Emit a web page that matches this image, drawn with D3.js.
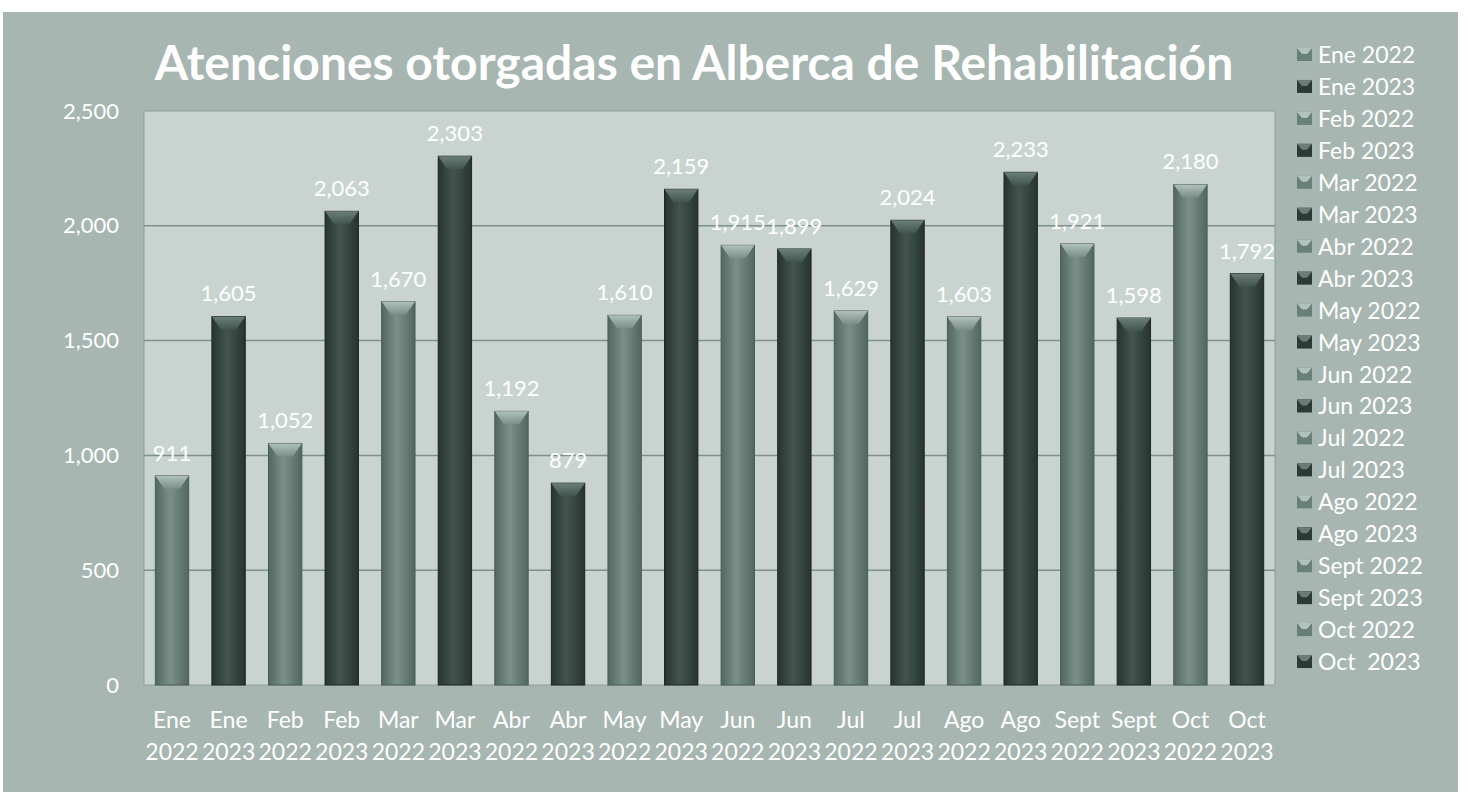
<!DOCTYPE html>
<html>
<head>
<meta charset="utf-8">
<script src="https://cdn.jsdelivr.net/npm/d3@7/dist/d3.min.js"></script>
<style>
  html, body { margin: 0; padding: 0; background: #ffffff; }
  svg { display: block; }
  text { font-family: Lato, "Open Sans", sans-serif; fill: #ffffff; }
  .legend text { white-space: pre; }
</style>
</head>
<body>
<svg id="chart" width="1468" height="792"></svg>
<script>
// Monthly attendance at the rehabilitation pool, 2022 vs 2023
const months = ["Ene", "Feb", "Mar", "Abr", "May", "Jun", "Jul", "Ago", "Sept", "Oct"];
const years = ["2022", "2023"];
const values2022 = [911, 1052, 1670, 1192, 1610, 1915, 1629, 1603, 1921, 2180];
const values2023 = [1605, 2063, 2303, 879, 2159, 1899, 2024, 2233, 1598, 1792];
const legendLabels = ["Ene 2022", "Ene 2023", "Feb 2022", "Feb 2023", "Mar 2022", "Mar 2023",
  "Abr 2022", "Abr 2023", "May 2022", "May 2023", "Jun 2022", "Jun 2023", "Jul 2022", "Jul 2023",
  "Ago 2022", "Ago 2023", "Sept 2022", "Sept 2023", "Oct 2022", "Oct  2023"];
const yTicks = [0, 500, 1000, 1500, 2000, 2500];
const title = "Atenciones otorgadas en Alberca de Rehabilitación";

// Interleave months and years into one bar per month/year pair
const bars = [];
months.forEach((m, i) => {
  bars.push({ key: m + " 2022", month: m, year: "2022", value: values2022[i] });
  bars.push({ key: m + " 2023", month: m, year: "2023", value: values2023[i] });
});

const svg = d3.select("#chart");
const W = 1468, H = 792;
const plot = { left: 144, right: 1275, top: 111, bottom: 685 };

// Outer chart background
svg.append("rect").attr("x", 3).attr("y", 12).attr("width", 1455).attr("height", H - 12)
  .attr("fill", "#a7b6b1");

const defs = svg.append("defs");
const seriesColor = { "2022": ["#536761", "#7b908a", "#536761"], "2023": ["#27342f", "#43554f", "#27342f"] };
years.forEach(y => {
  const g = defs.append("linearGradient").attr("id", "grad" + y).attr("x1", 0).attr("x2", 1).attr("y1", 0).attr("y2", 0);
  g.append("stop").attr("offset", "0%").attr("stop-color", seriesColor[y][0]);
  g.append("stop").attr("offset", "45%").attr("stop-color", seriesColor[y][1]);
  g.append("stop").attr("offset", "100%").attr("stop-color", seriesColor[y][2]);
  const b = defs.append("linearGradient").attr("id", "bevel" + y).attr("x1", 0).attr("x2", 0).attr("y1", 0).attr("y2", 1);
  b.append("stop").attr("offset", "0%").attr("stop-color", y === "2022" ? "#b9c7c2" : "#72847e");
  b.append("stop").attr("offset", "100%").attr("stop-color", seriesColor[y][1]);
});

const x = d3.scaleBand().domain(bars.map(d => d.key)).range([plot.left, plot.right]).paddingInner(0.41).paddingOuter(0.2);
const y = d3.scaleLinear().domain([0, 2500]).range([plot.bottom, plot.top]);

// Plot area
svg.append("rect").attr("x", plot.left).attr("y", plot.top)
  .attr("width", plot.right - plot.left).attr("height", plot.bottom - plot.top)
  .attr("fill", "#c9d4d0").attr("stroke", "#8e9d98").attr("stroke-width", 1);

// Gridlines
svg.append("g").selectAll("line").data(yTicks.filter(t => t > 0 && t < 2500)).join("line")
  .attr("x1", plot.left).attr("x2", plot.right)
  .attr("y1", d => y(d)).attr("y2", d => y(d))
  .attr("stroke", "#7f908a").attr("stroke-width", 1.5);

// Y axis labels
const yAxis = d3.axisLeft(y).tickValues(yTicks).tickFormat(d3.format(",")).tickSize(0).tickPadding(25);
const yg = svg.append("g").attr("transform", `translate(${plot.left},0)`).call(yAxis);
yg.select(".domain").remove();
yg.selectAll("text").attr("font-size", 22).attr("fill", "#ffffff").style("font-family", "Lato, 'Open Sans', sans-serif");

// Bars
const barG = svg.append("g");
barG.selectAll("rect.bar").data(bars).join("rect").attr("class", "bar")
  .attr("x", d => x(d.key)).attr("y", d => y(d.value))
  .attr("width", x.bandwidth()).attr("height", d => y(0) - y(d.value))
  .attr("fill", d => `url(#grad${d.year})`)
  .attr("stroke", d => d.year === "2022" ? "#4a5d57" : "#1c2724").attr("stroke-width", 1);

// Bevelled top of each bar
const bevelH = 13, inset = 9;
barG.selectAll("path.bevel").data(bars).join("path").attr("class", "bevel")
  .attr("d", d => {
    const x0 = x(d.key), x1 = x0 + x.bandwidth(), top = y(d.value);
    return `M${x0},${top}L${x1},${top}L${x1 - inset},${top + bevelH}L${x0 + inset},${top + bevelH}Z`;
  })
  .attr("fill", d => `url(#bevel${d.year})`).attr("opacity", 0.9);

// Value labels
svg.append("g").selectAll("text").data(bars).join("text")
  .attr("x", d => x(d.key) + x.bandwidth() / 2)
  .attr("y", d => y(d.value) - 15)
  .attr("text-anchor", "middle").attr("font-size", 22)
  .text(d => d3.format(",")(d.value));

// X axis labels (two lines)
const xl = svg.append("g").selectAll("text").data(bars).join("text")
  .attr("x", d => x(d.key) + x.bandwidth() / 2)
  .attr("text-anchor", "middle").attr("font-size", 23);
xl.append("tspan").attr("x", d => x(d.key) + x.bandwidth() / 2).attr("y", 728).text(d => d.month);
xl.append("tspan").attr("x", d => x(d.key) + x.bandwidth() / 2).attr("y", 760).text(d => d.year);

// Title
svg.append("text").attr("x", 694).attr("y", 80).attr("text-anchor", "middle")
  .attr("font-size", 48).attr("font-weight", 700).text(title);

// Legend
const leg = svg.append("g").attr("class", "legend").selectAll("g").data(legendLabels).join("g")
  .attr("transform", (d, i) => `translate(1297, ${55 + i * 31.95})`);
leg.append("rect").attr("x", 0).attr("y", -7).attr("width", 15).attr("height", 13)
  .attr("fill", (d, i) => i % 2 === 0 ? "#6a7f78" : "#2c3a36");
leg.append("path").attr("d", "M0,-7L15,-7L10,-1L5,-1Z")
  .attr("fill", (d, i) => i % 2 === 0 ? "#b4c2bd" : "#6a7c76");
leg.append("text").attr("x", 21).attr("y", 8).attr("font-size", 23).text(d => d);
</script>
</body>
</html>
